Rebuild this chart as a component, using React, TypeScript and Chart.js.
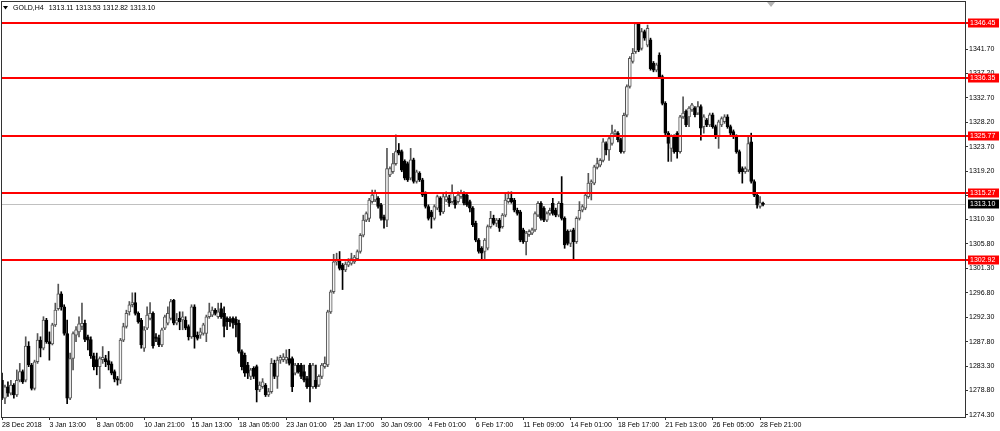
import React, { useEffect, useRef } from 'react';
import { Chart, registerables } from 'chart.js';

Chart.register(...registerables);

// ---- data (H4 candles) ----
const symbolLabel = 'GOLD,H4';

const opens = [
  1280.7, 1277.4, 1279.5, 1278.3, 1279.8, 1278.0, 1280.7, 1282.3, 1280.7, 1287.0,
  1283.5, 1279.2, 1284.1, 1288.1, 1286.6, 1291.8, 1287.8, 1287.4, 1290.9, 1293.9,
  1296.6, 1294.2, 1289.3, 1277.4, 1284.7, 1289.0, 1289.6, 1290.6, 1291.2, 1288.7,
  1288.2, 1285.2, 1284.5, 1283.2, 1284.5, 1284.7, 1284.3, 1283.7, 1282.3, 1281.0,
  1280.7, 1288.1, 1290.6, 1293.3, 1294.6, 1295.0, 1293.0, 1291.8, 1286.6, 1290.3,
  1292.1, 1293.0, 1288.7, 1288.5, 1287.2, 1290.3, 1291.2, 1292.1, 1295.4, 1291.2,
  1292.1, 1291.8, 1291.8, 1290.6, 1288.7, 1294.2, 1289.0, 1289.0, 1289.3, 1289.3,
  1292.4, 1292.7, 1293.6, 1292.4, 1293.9, 1293.0, 1292.1, 1291.9, 1292.1, 1291.9,
  1291.2, 1286.0, 1285.3, 1283.5, 1281.4, 1282.9, 1283.2, 1278.9, 1279.5, 1279.8,
  1278.0, 1278.6, 1283.8, 1281.4, 1284.4, 1284.5, 1284.4, 1284.7, 1284.7, 1282.0,
  1283.5, 1283.5, 1282.3, 1281.0, 1283.5, 1279.5, 1280.7, 1279.8, 1281.4, 1283.2,
  1283.5, 1293.3, 1297.0, 1302.5, 1302.8, 1301.9, 1301.0, 1301.9, 1302.2, 1302.5,
  1303.1, 1304.4, 1307.4, 1310.2, 1310.5, 1313.6, 1313.9, 1314.2, 1313.0, 1310.8,
  1310.2, 1318.5, 1319.1, 1320.6, 1323.1, 1322.8, 1321.0, 1320.6, 1317.9, 1321.3,
  1317.3, 1318.8, 1317.6, 1315.1, 1312.7, 1311.7, 1310.5, 1312.4, 1314.2, 1311.7,
  1313.9, 1314.2, 1313.6, 1313.9, 1313.6, 1314.5, 1315.1, 1314.8, 1313.6, 1312.4,
  1309.6, 1306.5, 1305.0, 1304.4, 1305.0, 1309.0, 1310.5, 1309.6, 1310.2, 1309.0,
  1311.1, 1313.6, 1314.2, 1313.9, 1312.0, 1311.7, 1308.4, 1306.2, 1307.5, 1307.8,
  1308.4, 1311.1, 1313.3, 1312.4, 1310.2, 1311.4, 1313.3, 1312.0, 1311.1, 1313.3,
  1310.5, 1308.1, 1305.9, 1308.4, 1306.2, 1310.5, 1312.0, 1312.4, 1314.5, 1317.0,
  1317.0, 1319.9, 1320.3, 1321.2, 1324.3, 1323.1, 1324.3, 1326.2, 1326.2, 1325.0,
  1322.8, 1329.5, 1334.8, 1339.4, 1341.2, 1346.4, 1341.8, 1344.9, 1342.4, 1343.4,
  1339.1, 1337.8, 1340.6, 1336.6, 1331.7, 1326.2, 1323.4, 1325.6, 1326.2, 1322.8,
  1329.2, 1330.2, 1329.2, 1330.5, 1330.8, 1329.9, 1331.1, 1327.4, 1328.6, 1327.7,
  1329.6, 1327.4, 1325.6, 1327.7, 1328.3, 1329.2, 1327.4, 1326.5, 1325.6, 1322.8,
  1319.7, 1319.1, 1319.4, 1324.6, 1317.3, 1314.8, 1312.7, 1313.11,
];

const highs = [
  1282.0, 1279.8, 1280.4, 1280.7, 1280.1, 1282.6, 1283.8, 1282.6, 1288.7, 1287.8,
  1283.8, 1284.4, 1289.3, 1288.7, 1292.4, 1292.1, 1289.6, 1291.2, 1294.9, 1298.4,
  1297.0, 1294.6, 1291.8, 1285.7, 1289.6, 1290.6, 1292.4, 1294.9, 1291.8, 1289.0,
  1288.7, 1285.7, 1285.7, 1285.0, 1286.9, 1285.3, 1286.0, 1284.1, 1282.6, 1281.4,
  1288.4, 1291.2, 1293.6, 1295.2, 1296.8, 1296.8, 1293.3, 1292.1, 1290.6, 1294.2,
  1295.0, 1293.3, 1289.3, 1289.0, 1290.3, 1292.7, 1294.2, 1295.6, 1295.6, 1293.0,
  1293.3, 1293.3, 1292.4, 1290.9, 1294.6, 1294.6, 1289.6, 1290.3, 1291.2, 1292.7,
  1294.9, 1294.2, 1293.9, 1294.9, 1294.9, 1294.2, 1292.4, 1292.4, 1292.4, 1292.4,
  1291.8, 1286.3, 1285.7, 1284.0, 1282.9, 1283.2, 1283.5, 1280.4, 1281.0, 1280.1,
  1279.2, 1284.7, 1284.4, 1285.0, 1285.3, 1285.6, 1286.3, 1286.4, 1285.0, 1283.8,
  1283.8, 1283.8, 1283.5, 1281.4, 1283.8, 1283.8, 1283.5, 1281.7, 1283.8, 1285.0,
  1293.6, 1297.3, 1303.9, 1304.1, 1304.4, 1302.2, 1302.5, 1303.1, 1304.1, 1303.7,
  1304.7, 1307.7, 1311.1, 1311.7, 1314.2, 1315.7, 1315.7, 1314.5, 1313.3, 1311.1,
  1323.4, 1320.0, 1322.5, 1325.9, 1324.3, 1323.1, 1321.3, 1320.9, 1323.4, 1321.6,
  1319.4, 1319.1, 1317.9, 1315.4, 1313.0, 1312.0, 1313.0, 1314.8, 1314.5, 1315.1,
  1315.4, 1314.8, 1316.7, 1314.5, 1315.4, 1315.7, 1315.4, 1315.1, 1313.9, 1312.7,
  1310.0, 1306.8, 1305.3, 1306.8, 1309.3, 1311.8, 1311.1, 1310.5, 1310.5, 1311.4,
  1315.1, 1315.4, 1315.4, 1314.2, 1312.4, 1312.0, 1308.7, 1308.1, 1308.4, 1308.7,
  1311.7, 1313.6, 1313.6, 1312.7, 1311.7, 1312.4, 1314.2, 1312.4, 1313.6, 1318.2,
  1310.8, 1308.4, 1308.4, 1308.7, 1310.8, 1313.6, 1313.0, 1315.1, 1318.8, 1317.6,
  1320.3, 1321.6, 1321.5, 1325.2, 1324.6, 1325.5, 1327.7, 1326.8, 1326.5, 1325.3,
  1329.9, 1335.1, 1340.3, 1341.8, 1346.6, 1346.6, 1345.5, 1345.2, 1346.1, 1343.7,
  1339.4, 1339.1, 1341.0, 1336.9, 1332.0, 1326.5, 1325.9, 1325.9, 1326.5, 1329.5,
  1332.9, 1330.5, 1331.1, 1331.7, 1331.1, 1332.0, 1331.4, 1329.6, 1328.9, 1329.9,
  1329.9, 1327.7, 1328.6, 1329.2, 1329.6, 1329.6, 1327.7, 1326.8, 1325.9, 1323.1,
  1320.0, 1320.0, 1325.6, 1326.2, 1317.6, 1315.1, 1314.5, 1313.53,
];

const lows = [
  1277.1, 1276.4, 1277.7, 1278.0, 1277.4, 1277.7, 1280.4, 1280.1, 1280.4, 1283.2,
  1278.9, 1278.9, 1283.8, 1285.0, 1286.3, 1287.5, 1284.4, 1287.2, 1290.6, 1293.6,
  1293.6, 1289.0, 1276.4, 1277.1, 1282.6, 1287.8, 1288.7, 1290.0, 1287.8, 1286.3,
  1284.7, 1282.6, 1281.7, 1279.2, 1283.8, 1283.2, 1282.6, 1281.7, 1280.4, 1279.8,
  1280.1, 1287.8, 1290.3, 1292.7, 1294.2, 1292.7, 1291.2, 1286.6, 1286.0, 1290.0,
  1291.8, 1286.6, 1287.8, 1286.9, 1286.9, 1290.0, 1290.9, 1291.8, 1290.9, 1290.9,
  1290.0, 1290.0, 1290.0, 1288.1, 1288.4, 1286.6, 1288.1, 1288.4, 1289.0, 1287.8,
  1292.1, 1292.4, 1292.7, 1292.1, 1292.1, 1288.7, 1290.0, 1290.6, 1290.3, 1288.7,
  1285.7, 1282.6, 1281.4, 1281.0, 1280.8, 1281.0, 1276.7, 1278.6, 1279.2, 1277.7,
  1277.7, 1278.3, 1281.0, 1279.2, 1283.8, 1284.1, 1283.8, 1283.5, 1278.6, 1281.7,
  1282.0, 1281.0, 1280.4, 1279.2, 1276.7, 1279.2, 1279.2, 1279.5, 1281.0, 1282.9,
  1283.2, 1293.0, 1296.7, 1301.9, 1301.0, 1297.4, 1300.7, 1301.6, 1301.9, 1302.2,
  1302.8, 1304.1, 1307.1, 1309.9, 1309.9, 1313.3, 1313.6, 1312.4, 1310.2, 1308.7,
  1309.0, 1318.2, 1318.8, 1320.3, 1322.2, 1319.1, 1317.6, 1317.3, 1317.6, 1317.0,
  1317.0, 1317.3, 1314.5, 1312.4, 1310.2, 1308.7, 1310.2, 1312.1, 1311.1, 1311.4,
  1313.6, 1312.7, 1313.3, 1312.4, 1313.3, 1314.2, 1313.0, 1312.7, 1311.7, 1309.0,
  1306.2, 1304.1, 1302.8, 1303.1, 1304.7, 1308.7, 1309.3, 1309.0, 1308.1, 1308.7,
  1310.8, 1313.3, 1313.3, 1311.7, 1311.1, 1306.2, 1305.9, 1303.8, 1307.2, 1307.5,
  1308.1, 1310.8, 1310.2, 1309.9, 1309.9, 1311.1, 1311.1, 1310.8, 1310.8, 1310.2,
  1305.0, 1305.6, 1305.3, 1302.8, 1305.9, 1310.2, 1311.7, 1312.1, 1314.2, 1313.9,
  1316.7, 1319.6, 1320.0, 1320.9, 1322.2, 1321.2, 1324.0, 1325.6, 1324.6, 1322.5,
  1322.5, 1329.2, 1334.5, 1339.1, 1340.9, 1341.2, 1341.5, 1343.3, 1342.1, 1337.8,
  1337.5, 1337.5, 1336.3, 1331.4, 1325.9, 1321.0, 1321.0, 1322.5, 1321.6, 1322.5,
  1328.9, 1327.4, 1327.4, 1330.2, 1329.2, 1329.6, 1324.9, 1326.2, 1327.4, 1327.4,
  1327.1, 1325.2, 1323.4, 1327.4, 1328.0, 1327.1, 1325.9, 1325.2, 1322.5, 1318.8,
  1317.0, 1318.8, 1319.1, 1317.0, 1314.5, 1312.4, 1312.4, 1312.82,
];

const closes = [
  1277.4, 1279.5, 1278.3, 1279.8, 1278.0, 1280.7, 1282.3, 1280.4, 1287.0, 1283.5,
  1279.2, 1284.1, 1288.1, 1286.6, 1291.8, 1287.8, 1287.4, 1290.9, 1293.6, 1296.6,
  1294.2, 1289.3, 1277.4, 1284.7, 1289.3, 1290.0, 1291.1, 1291.2, 1288.2, 1288.1,
  1285.2, 1283.2, 1283.2, 1284.7, 1284.9, 1284.1, 1283.5, 1282.0, 1280.9, 1280.7,
  1288.1, 1290.6, 1293.0, 1294.6, 1295.0, 1293.0, 1291.5, 1287.2, 1290.0, 1292.7,
  1293.0, 1287.0, 1288.4, 1287.2, 1290.0, 1292.4, 1293.0, 1295.2, 1291.2, 1291.8,
  1291.5, 1292.4, 1290.3, 1288.7, 1294.2, 1288.7, 1288.4, 1289.6, 1290.9, 1292.4,
  1293.3, 1293.6, 1293.0, 1293.3, 1292.4, 1290.6, 1291.5, 1291.5, 1291.2, 1290.9,
  1286.0, 1283.2, 1282.0, 1282.0, 1282.6, 1281.4, 1278.9, 1279.8, 1280.4, 1278.0,
  1278.6, 1283.8, 1281.4, 1284.4, 1284.9, 1285.0, 1284.9, 1283.8, 1279.5, 1283.5,
  1282.3, 1281.4, 1280.7, 1279.5, 1279.5, 1283.5, 1279.5, 1281.4, 1283.5, 1283.8,
  1293.3, 1297.0, 1302.5, 1302.8, 1301.3, 1301.0, 1302.1, 1302.5, 1303.1, 1303.4,
  1304.4, 1307.4, 1310.2, 1311.4, 1313.9, 1314.8, 1315.1, 1312.7, 1310.5, 1310.2,
  1319.7, 1319.7, 1320.6, 1322.8, 1322.5, 1319.4, 1317.9, 1317.6, 1321.3, 1317.3,
  1319.1, 1317.6, 1314.8, 1312.7, 1310.5, 1310.8, 1312.7, 1314.5, 1311.7, 1314.5,
  1314.5, 1313.3, 1315.1, 1313.0, 1314.8, 1315.1, 1313.3, 1313.0, 1312.4, 1309.3,
  1306.5, 1304.4, 1304.1, 1306.5, 1309.0, 1310.5, 1309.6, 1310.2, 1308.7, 1311.1,
  1313.9, 1314.2, 1313.6, 1312.0, 1311.4, 1306.5, 1306.2, 1307.8, 1308.1, 1308.4,
  1311.4, 1313.3, 1310.5, 1310.2, 1311.4, 1312.0, 1311.4, 1311.1, 1313.3, 1310.5,
  1305.6, 1305.9, 1308.1, 1306.2, 1310.5, 1312.0, 1312.7, 1314.8, 1317.0, 1317.3,
  1320.0, 1320.6, 1321.2, 1324.6, 1323.1, 1325.2, 1326.2, 1326.5, 1325.0, 1322.8,
  1329.5, 1334.8, 1340.0, 1340.9, 1346.4, 1341.5, 1344.9, 1343.7, 1345.5, 1338.1,
  1337.8, 1338.8, 1336.6, 1331.7, 1326.2, 1324.3, 1325.6, 1322.8, 1322.8, 1329.2,
  1329.9, 1327.7, 1330.8, 1331.4, 1329.6, 1331.1, 1327.1, 1329.2, 1327.7, 1329.6,
  1327.4, 1325.6, 1328.3, 1328.9, 1329.2, 1327.4, 1326.2, 1325.6, 1322.8, 1319.1,
  1319.1, 1319.7, 1324.3, 1317.3, 1314.8, 1313.0, 1313.4, 1313.10,
];

// time axis labels, one every 16 bars
const timeLabels = [
  '28 Dec 2018', '3 Jan 13:00', '8 Jan 05:00', '10 Jan 21:00', '15 Jan 13:00',
  '18 Jan 05:00', '23 Jan 01:00', '25 Jan 17:00', '30 Jan 09:00', '4 Feb 01:00',
  '6 Feb 17:00', '11 Feb 09:00', '14 Feb 01:00', '18 Feb 17:00', '21 Feb 13:00',
  '26 Feb 05:00', '28 Feb 21:00',
];
const timeLabelStep = 16;

// price axis labels
const priceTicks = [
  1274.3, 1278.8, 1283.3, 1287.8, 1292.3, 1296.8, 1301.3, 1305.8, 1310.3,
  1314.75, 1319.2, 1323.7, 1328.2, 1332.7, 1337.2, 1341.7,
];

// horizontal levels (red lines) and current bid
const levels = [1346.45, 1336.35, 1325.77, 1315.27, 1302.92];
const bidPrice = 1313.1;

// visible ranges
const xMin = -0.34;
const xMax = 325.2;
const yMin = 1273.93;
const yMax = 1350.54;
const shiftMarkerBar = 259.7;

const FONT = '"Liberation Sans", Arial, sans-serif';
const FS = 7;

export default function App() {
  const ref = useRef<HTMLCanvasElement | null>(null);

  useEffect(() => {
    document.body.style.margin = '0';
    const canvas = ref.current;
    if (!canvas) return;
    const isBull = (i: number) => closes[i] >= opens[i];
    const bodies = closes.map((c, i) => ({ x: i, y: [Math.min(opens[i], c), Math.max(opens[i], c)] }));
    const wicks = closes.map((_, i) => ({ x: i, y: [lows[i], highs[i]] }));

    const overlay = {
      id: 'mt4overlay',
      beforeDatasetsDraw(chart: any) {
        const { ctx, chartArea: a, scales } = chart;
        const py = Math.round(scales.y.getPixelForValue(bidPrice)) + 0.5;
        ctx.save();
        ctx.strokeStyle = '#c0c0c0';
        ctx.lineWidth = 1;
        ctx.beginPath();
        ctx.moveTo(a.left, py);
        ctx.lineTo(a.right, py);
        ctx.stroke();
        ctx.restore();
      },
      afterDatasetsDraw(chart: any) {
        const { ctx, chartArea: a, scales } = chart;
        ctx.save();
        ctx.strokeStyle = '#ff0000';
        ctx.lineWidth = 2;
        levels.forEach((lv) => {
          const py = Math.round(scales.y.getPixelForValue(lv));
          ctx.beginPath();
          ctx.moveTo(a.left, py);
          ctx.lineTo(a.right + 3, py);
          ctx.stroke();
        });
        ctx.restore();
      },
      afterDraw(chart: any) {
        const { ctx, chartArea: a, scales } = chart;
        ctx.save();
        // frame
        ctx.strokeStyle = '#333333';
        ctx.lineWidth = 1;
        ctx.strokeRect(a.left + 0.5, a.top + 0.5, a.right - a.left, a.bottom - a.top);
        // price labels
        ctx.font = `${FS}px ${FONT}`;
        ctx.textBaseline = 'middle';
        ctx.textAlign = 'left';
        const boxX = a.right + 3;
        const boxW = 31;
        const boxH = 9;
        const drawBox = (value: number, bg: string) => {
          const py = Math.round(scales.y.getPixelForValue(value));
          ctx.fillStyle = bg;
          ctx.fillRect(boxX, py - 4.5, boxW, boxH);
          ctx.fillStyle = '#ffffff';
          ctx.fillText(value.toFixed(2), boxX + 2, py + 0.5);
        };
        levels.forEach((lv) => drawBox(lv, '#ff0000'));
        drawBox(bidPrice, '#000000');
        // header
        const last = closes.length - 1;
        ctx.fillStyle = '#000000';
        ctx.beginPath();
        ctx.moveTo(3, 6);
        ctx.lineTo(8, 6);
        ctx.lineTo(5.5, 9.5);
        ctx.closePath();
        ctx.fill();
        ctx.textBaseline = 'middle';
        const ohlc = [opens[last], highs[last], lows[last], closes[last]].map((v) => v.toFixed(2)).join(' ');
        ctx.fillText(symbolLabel, 13, 8);
        const w = ctx.measureText(symbolLabel).width;
        ctx.fillText(ohlc, 13 + w + 5, 8);
        // chart shift marker
        const sx = scales.x.getPixelForValue(shiftMarkerBar);
        ctx.fillStyle = '#b4b4b4';
        ctx.beginPath();
        ctx.moveTo(sx - 4, a.top + 1);
        ctx.lineTo(sx + 4, a.top + 1);
        ctx.lineTo(sx, a.top + 6);
        ctx.closePath();
        ctx.fill();
        ctx.restore();
      },
    };

    const zeroPad = (s: any) => {
      s.paddingTop = 0;
      s.paddingBottom = 0;
      s.paddingLeft = 0;
      s.paddingRight = 0;
    };

    const chart = new Chart(canvas, {
      type: 'bar',
      data: {
        datasets: [
          {
            label: 'body',
            data: bodies as any,
            order: 0,
            grouped: false,
            barThickness: 3,
            minBarLength: 1,
            backgroundColor: (c: any) => (isBull(c.dataIndex) ? '#f4f4f4' : '#000000'),
            borderColor: (c: any) => (isBull(c.dataIndex) ? '#555555' : '#000000'),
            borderWidth: 1,
            borderSkipped: false,
          } as any,
          {
            label: 'wick',
            data: wicks as any,
            order: 1,
            grouped: false,
            barThickness: 1,
            backgroundColor: (c: any) => (isBull(c.dataIndex) ? '#555555' : '#000000'),
            borderWidth: 0,
          } as any,
        ],
      },
      options: {
        animation: false,
        responsive: false,
        devicePixelRatio: 1,
        layout: { padding: { left: 1, top: 1, right: 0, bottom: 0 } },
        plugins: { legend: { display: false }, tooltip: { enabled: false } },
        events: [],
        scales: {
          x: {
            type: 'linear',
            min: xMin,
            max: xMax,
            offset: false,
            position: 'bottom',
            afterBuildTicks: (s: any) => {
              s.ticks = timeLabels.map((_, k) => ({ value: k * timeLabelStep }));
            },
            afterFit: (s: any) => {
              s.height = 14;
              zeroPad(s);
            },
            ticks: {
              autoSkip: false,
              maxRotation: 0,
              minRotation: 0,
              align: 'start',
              padding: 1,
              color: '#000000',
              font: { family: FONT, size: FS },
              callback: (_v: any, idx: number) => timeLabels[idx],
            },
            grid: { drawOnChartArea: false, offset: false, tickLength: 3, color: '#333333' },
            border: { display: false },
          },
          y: {
            type: 'linear',
            position: 'right',
            min: yMin,
            max: yMax,
            afterBuildTicks: (s: any) => {
              s.ticks = priceTicks.map((v) => ({ value: v }));
            },
            afterFit: (s: any) => {
              s.width = 35;
              zeroPad(s);
            },
            ticks: {
              padding: 1,
              color: '#000000',
              font: { family: FONT, size: FS },
              callback: (v: any) => Number(v).toFixed(2),
            },
            grid: { drawOnChartArea: false, tickLength: 3, color: '#333333' },
            border: { display: false },
          },
        },
      } as any,
      plugins: [overlay],
    });
    return () => chart.destroy();
  }, []);

  return (
    <div style={{ position: 'fixed', left: 0, top: 0, width: 1000, height: 431, background: '#ffffff' }}>
      <canvas ref={ref} width={1000} height={431} style={{ display: 'block', width: 1000, height: 431 }} />
    </div>
  );
}
